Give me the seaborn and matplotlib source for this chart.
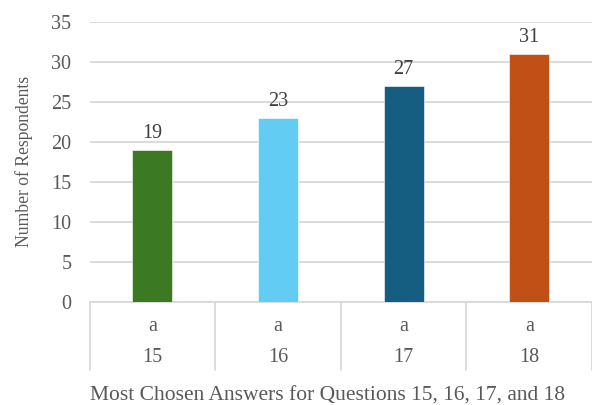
import matplotlib
matplotlib.use("Agg")
import matplotlib.pyplot as plt
import matplotlib.transforms as mtransforms
import seaborn as sns
import pandas as pd

# Survey results: most chosen answer per question
questions = ["15", "16", "17", "18"]
answers = ["a", "a", "a", "a"]
respondents = [19, 23, 27, 31]
bar_colors = ["#3b7a23", "#62ccf2", "#155e82", "#c05016"]

df = pd.DataFrame({"question": questions, "answer": answers, "count": respondents})

sns.set_theme(style="white")
plt.rcParams["font.family"] = ["Liberation Serif", "DejaVu Serif"]

W, H = 592, 405
fig = plt.figure(figsize=(W / 100, H / 100), dpi=100)
left, right, bottom, top = 89.5, 592, 301.7, 21.7
ax = fig.add_axes([left / W, 1 - bottom / H, (right - left) / W, (bottom - top) / H])

sns.barplot(data=df, x="question", y="count", hue="question", palette=bar_colors,
            legend=False, width=0.318, ax=ax, saturation=1, zorder=3)

for bar in ax.patches:
    bar.set_edgecolor("white")
    bar.set_linewidth(0.4)

ax.set_ylim(0, 35)
ax.set_xlim(-0.5, len(questions) - 0.5)
ax.set_yticks(range(0, 36, 5))
ax.yaxis.grid(True, color="#d9d9d9", linewidth=1.3, zorder=0)
ax.xaxis.grid(False)
for side in ["top", "right", "left"]:
    ax.spines[side].set_visible(False)
ax.spines["bottom"].set_color("#d9d9d9")
ax.spines["bottom"].set_linewidth(1.3)

ax.tick_params(axis="y", length=0, pad=13, labelsize=14.5, labelcolor="#595959")
ax.set_xticks([])
ax.set_xlabel("")
ax.set_ylabel("Number of Respondents", fontsize=12.7, color="#595959", labelpad=13)

# Value labels above each bar
for container in ax.containers:
    ax.bar_label(container, padding=5, fontsize=14.5, color="#404040")

# Two-level category axis: answer letter above question number
ax_h = bottom - top
trans = mtransforms.blended_transform_factory(ax.transData, ax.transAxes)
for i, (q, a) in enumerate(zip(questions, answers)):
    ax.text(i, -(326.7 - bottom) / ax_h, a, transform=trans, ha="center", va="center",
            fontsize=14.5, color="#595959")
    ax.text(i, -(358 - bottom) / ax_h, q, transform=trans, ha="center", va="center",
            fontsize=14.5, color="#595959")
for xb in [i - 0.5 for i in range(len(questions) + 1)]:
    ax.plot([xb, xb], [0, -(370 - bottom) / ax_h], transform=trans, color="#d9d9d9",
            linewidth=1.3, clip_on=False)

fig.text(328 / W, 1 - 396 / H, "Most Chosen Answers for Questions 15, 16, 17, and 18",
         ha="center", va="center", fontsize=15.5, color="#595959")

fig.savefig("out.png", dpi=100, facecolor="white")
